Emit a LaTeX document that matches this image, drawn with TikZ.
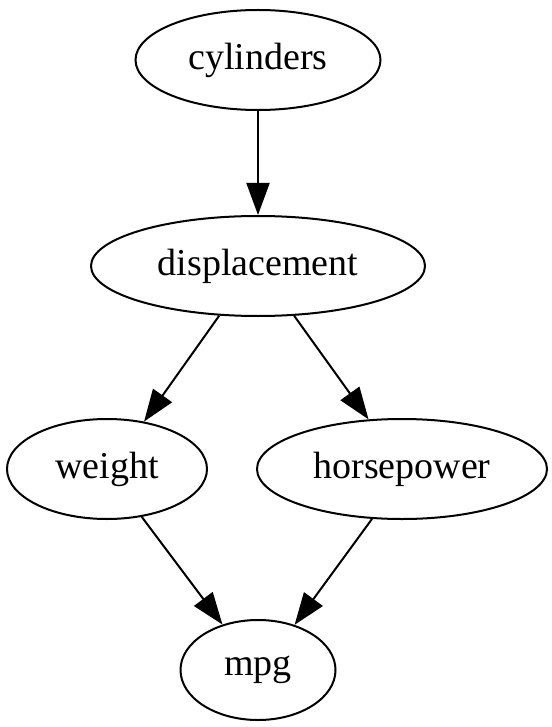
\documentclass[tikz,border=0pt]{standalone}
\usepackage{fontspec}
\setmainfont{Liberation Serif}
\usetikzlibrary{shapes.geometric,arrows.meta}
\begin{document}
\begin{tikzpicture}[x=1pt,y=-1pt,
	var/.style={draw=black,ellipse,line width=2pt,inner sep=0pt,minimum height=100pt,font=\fontsize{38}{40}\selectfont},
	edge/.style={line width=2pt,-{Triangle[length=32pt,width=23pt]}}]
	\useasboundingbox (0,0) rectangle (551,727);
	\node [var,minimum width=245pt] (cyl) at (258,60) {cylinders};
	\node [var,minimum width=334pt] (disp) at (258,266) {displacement};
	\node [var,minimum width=200pt] (wt) at (107,469) {weight};
	\node [var,minimum width=290pt] (hp) at (402,469) {horsepower};
	\node [var,minimum width=155pt] (mpg) at (258,670) {mpg};
	\draw [edge] (cyl) -- (disp);
	\draw [edge] (disp.232) -- (wt.52);
	\draw [edge] (disp.306) -- (hp.124);
	\draw [edge] (wt.306) -- (mpg.128);
	\draw [edge] (hp.239) -- (mpg.51);
\end{tikzpicture}
\end{document}
